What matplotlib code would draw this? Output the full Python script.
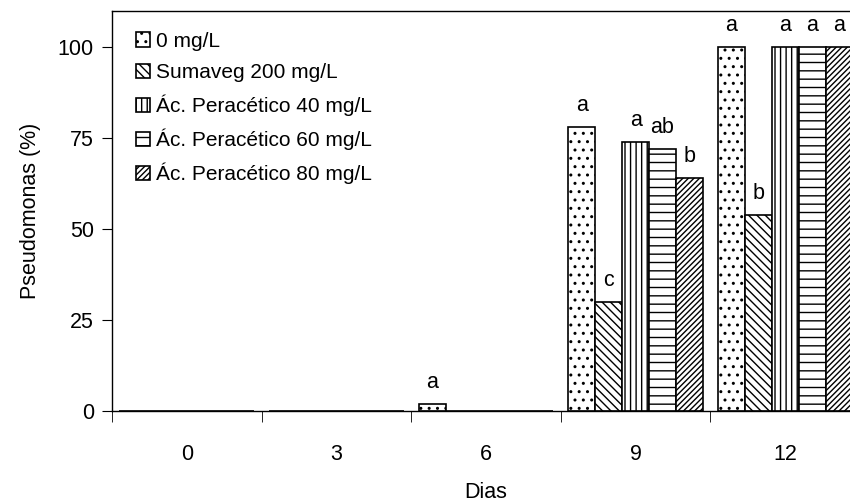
import numpy as np
import matplotlib
matplotlib.use("Agg")
import matplotlib.pyplot as plt

plt.rcParams['font.family'] = ['Liberation Sans', 'DejaVu Sans']
plt.rcParams['hatch.linewidth'] = 1.0

# data
dias = ['0', '3', '6', '9', '12']
series = ['0 mg/L', 'Sumaveg 200 mg/L', 'Ác. Peracético 40 mg/L',
          'Ác. Peracético 60 mg/L', 'Ác. Peracético 80 mg/L']
valores = [
    [0, 0, 2, 78, 100],
    [0, 0, 0, 30, 54],
    [0, 0, 0, 74, 100],
    [0, 0, 0, 72, 100],
    [0, 0, 0, 64, 100],
]
letras = [
    ['', '', 'a', 'a', 'a'],
    ['', '', '', 'c', 'b'],
    ['', '', '', 'a', 'a'],
    ['', '', '', 'ab', 'a'],
    ['', '', '', 'b', 'a'],
]
hatches = ['..', '\\\\\\\\', '|||', '--', '//////']

fig = plt.figure(figsize=(8.5, 5.04), dpi=100)
ax = fig.add_axes([112 / 850, 93 / 504, 748 / 850, 400 / 504])

x = np.arange(len(dias))
w = 0.9 / len(series)
for i, (nome, vals) in enumerate(zip(series, valores)):
    pos = x - 0.45 + w * (i + 0.5)
    ax.bar(pos, vals, w, color='white', edgecolor='black', linewidth=1.2,
           hatch=hatches[i], label=nome)
    for p, v, l in zip(pos, vals, letras[i]):
        if l:
            ax.text(p, v + 3, l, ha='center', va='bottom', fontsize=15.5)

ax.set_xlim(-0.5, len(dias) - 0.5)
ax.set_ylim(0, 110)
ax.set_yticks([0, 25, 50, 75, 100])
ax.set_xticks(x)
ax.set_xticklabels(dias)
ax.set_xticks(np.arange(-0.5, len(dias), 1.0), minor=True)
ax.tick_params(axis='x', which='major', length=0, pad=24, labelsize=15.5)
ax.tick_params(axis='x', which='minor', length=8, direction='out')
ax.tick_params(axis='y', length=7, pad=6, labelsize=15.5)
ax.set_xlabel('Dias', fontsize=15.5, labelpad=12)
ax.set_ylabel('Pseudomonas (%)', fontsize=15.5, labelpad=12)
for s in ax.spines.values():
    s.set_linewidth(1.0)

ax.legend(loc='upper left', bbox_to_anchor=(0.012, 0.985), frameon=False,
          fontsize=15, handlelength=0.7, handleheight=0.7,
          handletextpad=0.3, labelspacing=0.6, borderaxespad=0.3)

fig.savefig('out.png', dpi=100)
